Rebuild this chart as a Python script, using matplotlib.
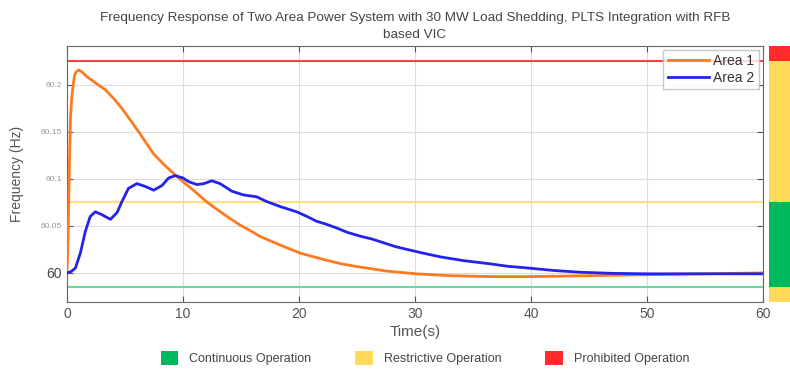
import numpy as np
import matplotlib.pyplot as plt
from matplotlib.patches import Patch

plt.rcParams['font.family'] = ['Liberation Sans', 'DejaVu Sans']

# data
t_area1 = [0, 0.1, 0.2, 0.3, 0.4, 0.5, 0.66, 0.8, 1.0, 1.29, 1.7, 2.16, 2.7, 3.3,
           4.0, 4.74, 5.5, 6.3, 7.44, 8.3, 9.17, 10.0, 10.9, 12.1, 13.0, 13.8,
           14.9, 15.8, 16.6, 18.3, 20.1, 21.3, 22.5, 23.7, 25.0, 27.5, 30.1,
           33.0, 36.5, 39.9, 45.0, 50.0, 55.0, 60.0]
f_area1 = [60.0, 60.04, 60.11, 60.165, 60.185, 60.197, 60.2106, 60.214, 60.216,
           60.214, 60.209, 60.205, 60.200, 60.195, 60.186, 60.175, 60.162,
           60.148, 60.127, 60.116, 60.106, 60.097, 60.088, 60.075, 60.067,
           60.060, 60.051, 60.045, 60.039, 60.030, 60.021, 60.017, 60.013,
           60.0095, 60.0067, 60.002, 59.999, 59.997, 59.996, 59.996, 59.997,
           59.998, 59.999, 60.0]

t_area2 = [0, 0.3, 0.72, 1.15, 1.58, 2.0, 2.44, 3.0, 3.74, 4.31, 4.74, 5.3, 6.03,
           6.75, 7.47, 8.19, 8.76, 9.34, 10.0, 10.5, 11.2, 11.8, 12.47, 13.2,
           14.2, 15.2, 16.35, 17.2, 18.4, 19.8, 20.7, 21.5, 22.3, 23.2, 24.2,
           25.3, 26.3, 27.3, 28.3, 29.3, 30.7, 32.2, 34.2, 36.5, 38.0, 39.9,
           42.0, 44.2, 47.0, 50.0, 55.0, 60.0]
f_area2 = [60.0, 60.001, 60.005, 60.021, 60.044, 60.060, 60.065, 60.062, 60.057,
           60.064, 60.076, 60.090, 60.095, 60.092, 60.088, 60.093, 60.101,
           60.1035, 60.101, 60.097, 60.094, 60.095, 60.098, 60.095, 60.087,
           60.083, 60.081, 60.076, 60.0705, 60.065, 60.060, 60.055, 60.052,
           60.048, 60.043, 60.039, 60.036, 60.032, 60.028, 60.025, 60.021,
           60.017, 60.013, 60.0096, 60.007, 60.005, 60.0025, 60.0007, 59.9995,
           59.999, 59.999, 59.999]

lim_prohibited = 60.226
lim_restrictive = 60.075
lim_continuous = 59.985

xticks = [0, 10, 20, 30, 40, 50, 60]
yticks = [60.0, 60.05, 60.1, 60.15, 60.2]
ytick_labels = ['60', '60.05', '60.1', '60.15', '60.2']

zones = [('Continuous Operation', '#00B85C'),
         ('Restrictive Operation', '#FFD95A'),
         ('Prohibited Operation', '#FF2A2A')]

ymin, ymax = 59.969, 60.2415

fig = plt.figure(figsize=(7.9, 3.71), dpi=100)
ax = fig.add_axes([0.0848, 0.186, 0.881, 0.690])

ax.axhline(lim_prohibited, color='#FF4040', lw=1.5, zorder=2)
ax.axhline(lim_restrictive, color='#FFE07A', lw=1.5, zorder=2)
ax.axhline(lim_continuous, color='#66D9A0', lw=1.5, zorder=2)

ax.plot(t_area1, f_area1, color='#FF7A1F', lw=2, label='Area 1', zorder=3)
ax.plot(t_area2, f_area2, color='#2323EE', lw=2, label='Area 2', zorder=4)

ax.set_xlim(0, 60)
ax.set_ylim(ymin, ymax)
ax.set_xticks(xticks)
ax.set_yticks(yticks)
ax.set_yticklabels(ytick_labels)
ax.tick_params(axis='x', labelsize=10, colors='#555555', direction='in',
               top=True, length=4)
ax.tick_params(axis='y', labelsize=6, colors='#555555', labelcolor='#999999',
               direction='in', right=True, length=4)
labs = ax.get_yticklabels()
labs[0].set_fontsize(10)
labs[0].set_color('#444444')
ax.grid(True, color='#DDDDDD', lw=0.8)
for s in ax.spines.values():
    s.set_color('#666666')

ax.set_xlabel('Time(s)', fontsize=11, color='#555555', labelpad=3)
ax.set_ylabel('Frequency (Hz)', fontsize=10, color='#555555', labelpad=12)
ax.set_title('Frequency Response of Two Area Power System with 30 MW Load Shedding, '
             'PLTS Integration with RFB\nbased VIC', fontsize=9.7, color='#444444',
             pad=6, linespacing=1.5)

ax.legend(loc='upper right', fontsize=10, handlelength=3, frameon=True,
          fancybox=False, edgecolor='#BBBBBB', borderaxespad=0.3,
          handletextpad=0.3, borderpad=0.3, labelspacing=0.2, labelcolor='#333333')

# side color bar showing operating zones
bar = fig.add_axes([0.9734, 0.186, 0.0266, 0.690])
bar.axhspan(ymin, lim_continuous, color=zones[1][1], lw=0)
bar.axhspan(lim_continuous, lim_restrictive, color=zones[0][1], lw=0)
bar.axhspan(lim_restrictive, lim_prohibited, color=zones[1][1], lw=0)
bar.axhspan(lim_prohibited, ymax, color=zones[2][1], lw=0)
bar.set_ylim(ymin, ymax)
bar.axis('off')

handles = [Patch(facecolor=c, edgecolor='none', label=n) for n, c in zones]
fig.legend(handles=handles, loc='center', bbox_to_anchor=(0.538, 0.035), ncol=3,
           frameon=False, fontsize=9, handlelength=1.4, handleheight=1.4,
           handletextpad=0.9, columnspacing=3.5, labelcolor='#444444')

fig.savefig('out.png', dpi=100)
